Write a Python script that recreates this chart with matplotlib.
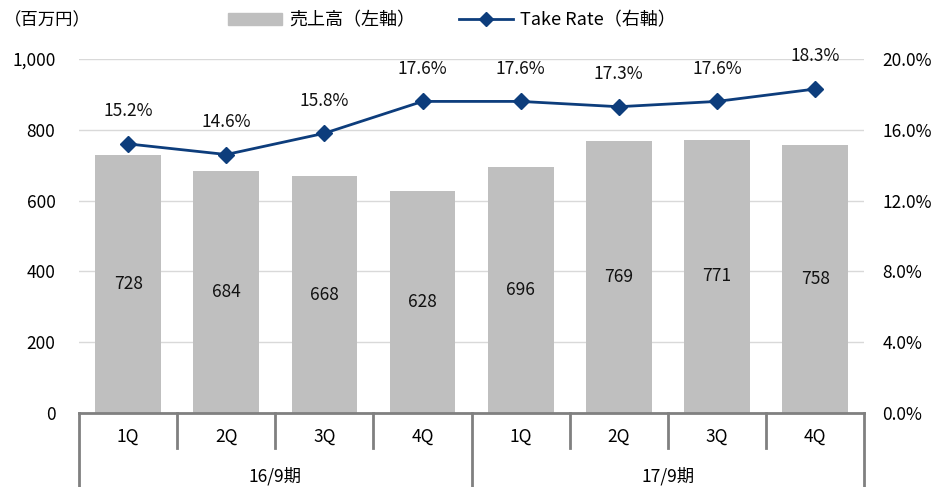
import matplotlib.pyplot as plt
import matplotlib.transforms as mtransforms
from matplotlib.lines import Line2D
from matplotlib.patches import Patch

plt.rcParams['font.family'] = ['Noto Sans CJK JP', 'DejaVu Sans']

# quarterly sales (million yen) and take rate (%)
quarters = ['1Q', '2Q', '3Q', '4Q', '1Q', '2Q', '3Q', '4Q']
periods = ['16/9期', '17/9期']
sales = [728, 684, 668, 628, 696, 769, 771, 758]
take_rate = [15.2, 14.6, 15.8, 17.6, 17.6, 17.3, 17.6, 18.3]

bar_color = '#bfbfbf'
line_color = '#0d3d7c'
axis_grey = '#808080'
fs = 12.5

fig = plt.figure(figsize=(9.32, 4.87), dpi=100)
ax = fig.add_axes([0.0848, 0.152, 0.8424, 0.727])
ax2 = ax.twinx()

x = list(range(len(sales)))
ax.bar(x, sales, width=0.67, color=bar_color, zorder=2)
for xi, v in zip(x, sales):
    ax.text(xi, v / 2, f'{v}', ha='center', va='center', fontsize=fs, color='#111111')

ax.set_xlim(-0.5, len(sales) - 0.5)
ax.set_ylim(0, 1000)
ax.set_yticks(range(0, 1001, 200))
ax.set_yticklabels([f'{v:,}' for v in range(0, 1001, 200)], fontsize=fs)
ax.grid(axis='y', color='#d9d9d9', linewidth=1, zorder=0)
ax.set_axisbelow(True)
ax.tick_params(axis='y', length=0, pad=17)
ax.set_xticks([])

ax2.plot(x, take_rate, color=line_color, linewidth=2, marker='D', markersize=8, zorder=3)
for xi, v in zip(x, take_rate):
    ax2.annotate(f'{v:.1f}%', (xi, v), xytext=(0, 17), textcoords='offset points',
                 ha='center', va='bottom', fontsize=fs, color='#111111')
ax2.set_ylim(0, 20)
ax2.set_yticks([0, 4, 8, 12, 16, 20])
ax2.set_yticklabels([f'{v:.1f}%' for v in [0, 4, 8, 12, 16, 20]], fontsize=fs)
ax2.tick_params(axis='y', length=0, pad=13)

for a in (ax, ax2):
    for s in ['left', 'right', 'top']:
        a.spines[s].set_visible(False)
ax2.spines['bottom'].set_visible(False)
ax.spines['bottom'].set_color(axis_grey)
ax.spines['bottom'].set_linewidth(2)

# two-level category axis below the plot
trans = mtransforms.blended_transform_factory(ax.transData, ax.transAxes)
for i in range(1, len(quarters)):
    if i % 4 == 0:
        continue
    ax.add_line(Line2D([i - 0.5, i - 0.5], [0, -0.099], transform=trans,
                       color=axis_grey, linewidth=2, clip_on=False))
for b in [-0.5, 3.5, 7.5]:
    ax.add_line(Line2D([b, b], [0, -0.21], transform=trans,
                       color=axis_grey, linewidth=2, clip_on=False))
for xi, q in zip(x, quarters):
    ax.text(xi, -0.068, q, transform=trans, ha='center', va='center', fontsize=fs)
for k, p in enumerate(periods):
    ax.text(4 * k + 1.5, -0.178, p, transform=trans, ha='center', va='center', fontsize=fs)

fig.text(0.004, 0.958, '（百万円）', ha='left', va='center', fontsize=fs)

handles = [Patch(color=bar_color, label='売上高（左軸）'),
           Line2D([], [], color=line_color, linewidth=2, marker='D', markersize=7,
                  label='Take Rate（右軸）')]
fig.legend(handles=handles, loc='center', bbox_to_anchor=(0.485, 0.958), ncol=2,
           frameon=False, fontsize=13, handlelength=3.0, columnspacing=2.4,
           handletextpad=0.4)

fig.savefig('out.png', dpi=100)
